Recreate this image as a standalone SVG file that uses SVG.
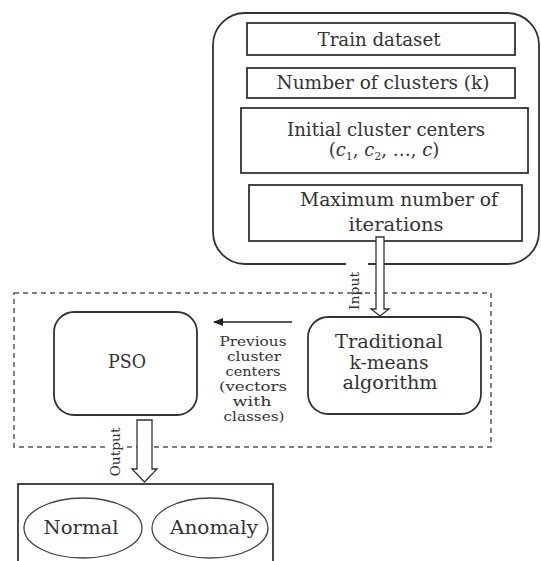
<svg xmlns="http://www.w3.org/2000/svg" width="541" height="561" viewBox="0 0 541 561">
  <style>
    .box { fill: #fff; stroke: #333; stroke-width: 1.8; }
    .dash { fill: none; stroke: #555; stroke-width: 1.5; stroke-dasharray: 5 4; }
    .t { font-family: "DejaVu Serif", "Liberation Serif", serif; fill: #333; text-anchor: middle; }
    .t18 { font-size: 18px; }
    .t13 { font-size: 13px; }
    .t12 { font-size: 12.5px; }
    .hollow { fill: #fff; stroke: #333; stroke-width: 1.3; }
  </style>
  <defs>
    <marker id="arrowhead" markerWidth="10" markerHeight="8" refX="9" refY="4" orient="auto" markerUnits="userSpaceOnUse">
      <path d="M0,0 L10,4 L0,8 Z" fill="#222"/>
    </marker>
  </defs>
  <rect width="541" height="561" fill="#fff"/>

  <!-- input parameters panel -->
  <g id="inputs">
    <rect class="box" x="213" y="13" width="326" height="251" rx="32"/>
    <g id="train-dataset">
      <rect class="box" x="247" y="23" width="268" height="32"/>
      <text class="t t18" x="379" y="46" textLength="123" lengthAdjust="spacingAndGlyphs">Train dataset</text>
    </g>
    <g id="num-clusters">
      <rect class="box" x="247" y="68" width="268" height="30"/>
      <text class="t t18" x="383" y="89" textLength="213" lengthAdjust="spacingAndGlyphs">Number of clusters (k)</text>
    </g>
    <g id="initial-centers">
      <rect class="box" x="241" y="108" width="287" height="65"/>
      <text class="t t18" x="386" y="136" textLength="198" lengthAdjust="spacingAndGlyphs">Initial cluster centers</text>
      <text class="t t18" x="384" y="156">(<tspan font-style="italic">c</tspan><tspan font-size="11" dy="4">1</tspan><tspan dy="-4">, </tspan><tspan font-style="italic">c</tspan><tspan font-size="11" dy="4">2</tspan><tspan dy="-4">, …, </tspan><tspan font-style="italic">c</tspan>)</text>
    </g>
    <g id="max-iterations">
      <rect class="box" x="249" y="185" width="273" height="56"/>
      <text class="t t18" x="399" y="206" textLength="198" lengthAdjust="spacingAndGlyphs">Maximum number of</text>
      <text class="t t18" x="396" y="231" textLength="95" lengthAdjust="spacingAndGlyphs">iterations</text>
    </g>
  </g>

  <!-- processing stage -->
  <rect id="stage" class="dash" x="14" y="293" width="477" height="154"/>

  <g id="pso">
    <rect class="box" x="54" y="312" width="143" height="103" rx="20"/>
    <text class="t t18" x="127" y="368" textLength="38" lengthAdjust="spacingAndGlyphs">PSO</text>
  </g>

  <g id="kmeans">
    <rect class="box" x="308" y="317" width="173" height="97" rx="20"/>
    <text class="t t18" x="389" y="348" textLength="108" lengthAdjust="spacingAndGlyphs">Traditional</text>
    <text class="t t18" x="389" y="369" textLength="79" lengthAdjust="spacingAndGlyphs">k-means</text>
    <text class="t t18" x="390" y="389" textLength="95" lengthAdjust="spacingAndGlyphs">algorithm</text>
  </g>

  <g id="output-classes">
    <rect class="box" x="18" y="484" width="255" height="100"/>
    <g id="normal">
      <ellipse fill="#fff" stroke="#444" stroke-width="1.3" cx="83" cy="528" rx="59" ry="30"/>
      <text class="t t18" x="81" y="534" textLength="75" lengthAdjust="spacingAndGlyphs">Normal</text>
    </g>
    <g id="anomaly">
      <ellipse fill="#fff" stroke="#444" stroke-width="1.3" cx="210" cy="528" rx="58" ry="30"/>
      <text class="t t18" x="214" y="534" textLength="88" lengthAdjust="spacingAndGlyphs">Anomaly</text>
    </g>
  </g>

  <!-- connectors -->
  <g id="connectors">
    <!-- input arrow -->
    <rect x="346" y="257" width="22" height="30" fill="#fff"/>
    <text class="t t13" transform="translate(359,291) rotate(-90)" textLength="38" lengthAdjust="spacingAndGlyphs">Input</text>
    <polygon class="hollow" points="376,237 384,237 384,309 389,309 380,316 371,309 376,309"/>

    <!-- previous centers feedback -->
    <line x1="292" y1="322" x2="214" y2="322" stroke="#222" stroke-width="1.3" marker-end="url(#arrowhead)"/>
    <g class="t t12">
      <text x="253" y="346" textLength="67" lengthAdjust="spacingAndGlyphs">Previous</text>
      <text x="254" y="361" textLength="54" lengthAdjust="spacingAndGlyphs">cluster</text>
      <text x="253" y="376" textLength="55" lengthAdjust="spacingAndGlyphs">centers</text>
      <text x="253" y="391" textLength="68" lengthAdjust="spacingAndGlyphs">(vectors</text>
      <text x="252" y="406" textLength="39" lengthAdjust="spacingAndGlyphs">with</text>
      <text x="254" y="421" textLength="61" lengthAdjust="spacingAndGlyphs">classes)</text>
    </g>

    <!-- output arrow -->
    <rect x="107" y="440" width="17" height="16" fill="#fff"/>
    <text class="t t13" transform="translate(120,452) rotate(-90)" textLength="49" lengthAdjust="spacingAndGlyphs">Output</text>
    <polygon class="hollow" points="137,420 152,420 152,469 157,469 144.5,482 132,469 137,469"/>
  </g>
</svg>
